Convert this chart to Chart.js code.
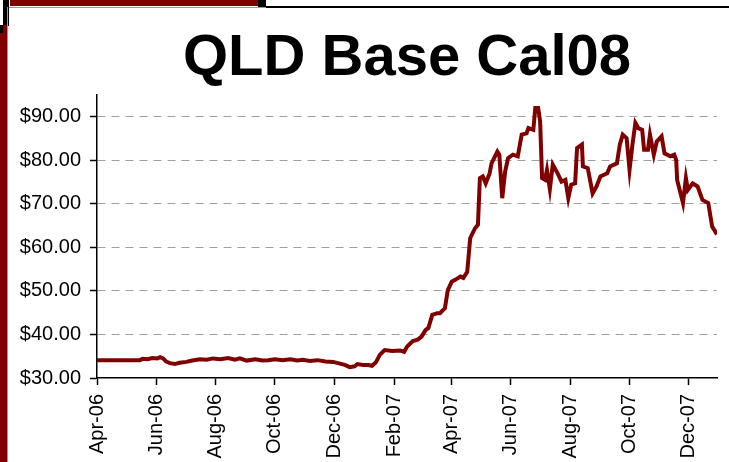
<!DOCTYPE html>
<html>
<head>
<meta charset="utf-8">
<script src="https://cdn.jsdelivr.net/npm/chart.js@4/dist/chart.umd.min.js"></script>
<style>
  html, body { margin: 0; padding: 0; background: #fff; }
  #wrap { position: relative; width: 729px; height: 462px; overflow: hidden; }
  #wrap canvas { position: absolute; left: 0; top: 0; }
  .deco { position: absolute; }
</style>
</head>
<body>
<div id="wrap">
  <canvas id="qld-chart" width="729" height="462"></canvas>
  <div class="deco" style="left:10px;top:0;width:248px;height:6px;background:#800000"></div>
  <div class="deco" style="left:258px;top:0;width:8px;height:7px;background:#000"></div>
  <div class="deco" style="left:266px;top:6px;width:463px;height:2px;background:#000"></div>
  <div class="deco" style="left:8px;top:7px;width:258px;height:1px;background:#999"></div>
  <div class="deco" style="left:3px;top:0;width:6px;height:26px;background:#000"></div>
  <div class="deco" style="left:0;top:25px;width:3px;height:8px;background:#000"></div>
  <div class="deco" style="left:0;top:33px;width:7px;height:429px;background:#800000"></div>
  <div class="deco" style="left:3px;top:25px;width:4px;height:8px;background:#800000"></div>
  <div class="deco" style="left:7px;top:7px;width:1px;height:455px;background:#999"></div>
</div>
<script>
// days since 1-Apr-2006, and the QLD base Cal08 price ($/MWh)
const tradeDay = [
  0, 44, 47, 52, 57, 62, 65, 68, 71, 75, 80, 85, 92, 98, 106, 113, 119, 127, 135, 142,
  147, 154, 163, 170, 176, 183, 191, 199, 206, 212, 219, 227, 235, 243, 250, 255, 260, 265, 268, 274,
  279, 283, 287, 291, 296, 304, 312, 316, 319, 325, 330, 334, 338, 341, 345, 350, 353, 356, 358, 361,
  365, 369, 374, 377, 381, 384, 389, 392, 394, 397, 400, 404, 406, 412, 414, 417, 420, 423, 428, 433,
  437, 442, 444, 449, 451, 454, 456, 458, 461, 463, 466, 469, 474, 478, 482, 485, 488, 492, 494, 499,
  500, 505, 510, 514, 518, 525, 528, 535, 538, 541, 545, 548, 551, 554, 557, 561, 563, 567, 569, 573,
  576, 581, 584, 590, 594, 596, 597, 603, 606, 608, 613, 618, 623, 629, 633, 638
];
const price = [
  34.1, 34.1, 34.4, 34.3, 34.6, 34.5, 34.8, 34.5, 33.8, 33.4, 33.2, 33.5, 33.7, 34.0, 34.3, 34.2, 34.5, 34.3, 34.6, 34.2,
  34.5, 34.0, 34.3, 34.0, 34.1, 34.3, 34.1, 34.3, 34.0, 34.2, 33.9, 34.1, 33.8, 33.7, 33.3, 33.0, 32.5, 32.7, 33.2, 33.0,
  33.0, 32.8, 33.6, 35.3, 36.4, 36.2, 36.3, 36.0, 37.2, 38.5, 38.8, 39.5, 41.0, 41.5, 44.5, 44.9, 44.9, 45.6, 46.0, 50.2,
  52.1, 52.6, 53.3, 53.0, 54.4, 62.1, 64.4, 65.2, 75.9, 76.3, 74.7, 77.0, 79.3, 82.0, 81.3, 71.3, 77.4, 80.5, 81.3, 80.9,
  85.9, 86.2, 87.4, 87.0, 92.0, 92.0, 88.9, 75.9, 75.5, 77.8, 73.4, 79.0, 77.0, 75.1, 75.5, 71.3, 74.4, 74.7, 82.8, 83.6,
  78.6, 78.2, 72.4, 74.0, 76.3, 77.0, 78.6, 79.3, 83.6, 85.9, 85.1, 77.8, 83.6, 88.6, 87.4, 87.0, 82.4, 82.4, 85.9, 81.3,
  84.3, 85.5, 81.6, 80.9, 81.3, 80.1, 75.5, 70.2, 75.9, 73.2, 74.7, 74.0, 70.9, 70.2, 64.8, 63.0
];

const tickDates = ["2006-04-01", "2006-06-01", "2006-08-01", "2006-10-01", "2006-12-01", "2007-02-01",
                   "2007-04-01", "2007-06-01", "2007-08-01", "2007-10-01", "2007-12-01"];
const tickLabels = ["Apr-06", "Jun-06", "Aug-06", "Oct-06", "Dec-06", "Feb-07",
                    "Apr-07", "Jun-07", "Aug-07", "Oct-07", "Dec-07"];
const yTicks = [30, 40, 50, 60, 70, 80, 90];

const dayMs = 86400000;
const startMs = Date.parse("2006-04-01");
const tickDays = tickDates.map(d => Math.round((Date.parse(d) - startMs) / dayMs));

const points = tradeDay.map((d, i) => ({ x: d, y: price[i] }));

const font = "'Liberation Sans', Arial, sans-serif";

new Chart(document.getElementById("qld-chart"), {
    type: "line",
    data: {
        datasets: [{
            data: points,
            borderColor: "#800000",
            borderWidth: 4,
            pointRadius: 0,
            tension: 0
        }]
    },
    options: {
        responsive: false,
        animation: false,
        layout: { padding: { left: 10, right: 12, top: 0, bottom: 0 } },
        plugins: {
            legend: { display: false },
            tooltip: { enabled: false },
            title: {
                display: true,
                text: "QLD Base Cal08",
                fullSize: false,
                color: "#000",
                font: { family: font, size: 58, weight: "bold", lineHeight: 1 },
                padding: { top: 30, bottom: 7 }
            }
        },
        scales: {
            x: {
                type: "linear",
                min: 0,
                max: 638,
                afterBuildTicks: scale => { scale.ticks = tickDays.map(v => ({ value: v })); },
                afterFit: scale => { scale.height = 84; },
                ticks: {
                    autoSkip: false,
                    minRotation: 90,
                    maxRotation: 90,
                    padding: 9,
                    color: "#000",
                    font: { family: font, size: 20 },
                    callback: value => tickLabels[tickDays.indexOf(value)]
                },
                grid: {
                    drawOnChartArea: false,
                    tickLength: 7,
                    tickColor: "#000",
                    tickWidth: 1.5
                },
                border: { color: "#000", width: 1.5 }
            },
            y: {
                min: 30,
                max: 95,
                afterBuildTicks: scale => { scale.ticks = yTicks.map(v => ({ value: v })); },
                afterFit: scale => { scale.width = 87; },
                ticks: {
                    padding: 9,
                    color: "#000",
                    font: { family: font, size: 20 },
                    callback: value => "$" + value.toFixed(2)
                },
                grid: {
                    color: ctx => ctx.tick && ctx.tick.value === 30 ? "rgba(0,0,0,0)" : "#a0a0a0",
                    lineWidth: 1,
                    tickBorderDash: [],
                    tickLength: 7,
                    tickColor: "#000",
                    tickWidth: 1.5
                },
                border: { color: "#000", width: 1.5, dash: [8, 6] }
            }
        }
    }
});
</script>
</body>
</html>
